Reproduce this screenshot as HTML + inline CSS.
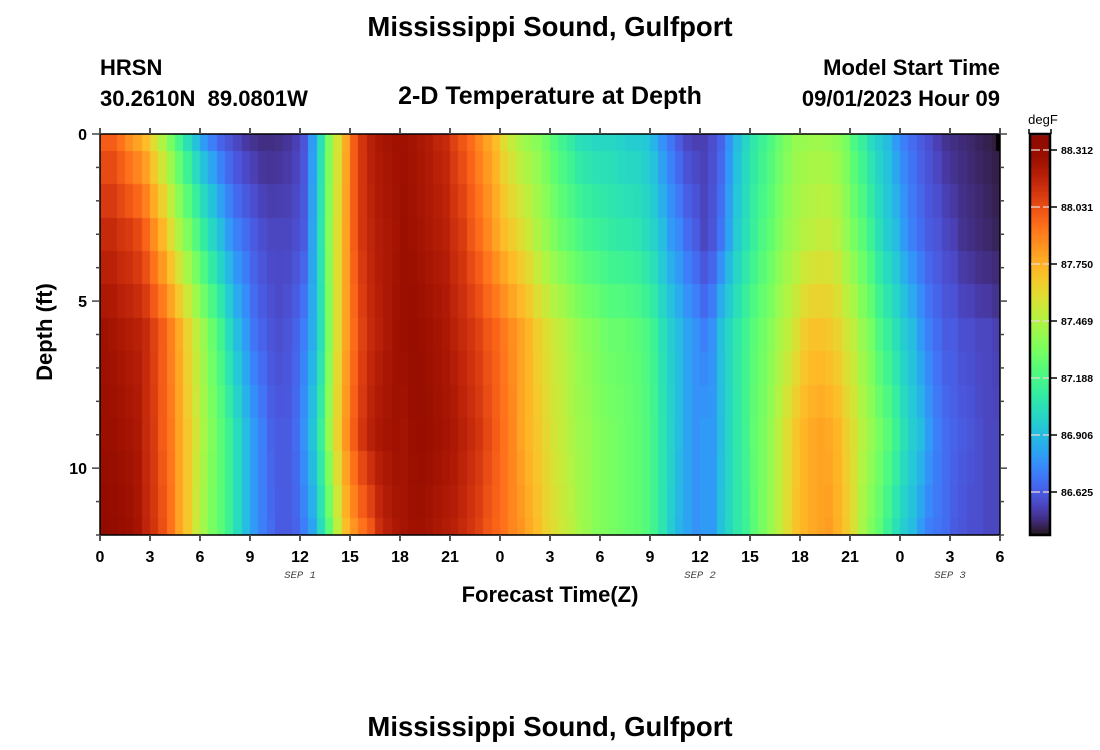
<!DOCTYPE html>
<html><head><meta charset="utf-8">
<style>
html,body{margin:0;padding:0;background:#fff;}
#wrap{position:relative;width:1100px;height:750px;overflow:hidden;background:#fff;}
canvas{position:absolute;left:0;top:0;}
svg{position:absolute;left:0;top:0;}
text{font-family:"Liberation Sans",Arial,sans-serif;}
</style></head>
<body>
<div id="wrap">
<canvas id="cv" width="1100" height="750"></canvas>
<svg width="1100" height="750" xmlns="http://www.w3.org/2000/svg">
<g font-weight="bold" fill="#000">
<text x="550" y="36" text-anchor="middle" font-size="27.5">Mississippi Sound, Gulfport</text>
<text x="100" y="75" font-size="22">HRSN</text>
<text x="100" y="106" font-size="22" style="white-space:pre" xml:space="preserve">30.2610N  89.0801W</text>
<text x="550" y="104" text-anchor="middle" font-size="25">2-D Temperature at Depth</text>
<text x="1000" y="75" text-anchor="end" font-size="22">Model Start Time</text>
<text x="1000" y="106" text-anchor="end" font-size="22">09/01/2023 Hour 09</text>
<text x="550" y="602" text-anchor="middle" font-size="22">Forecast Time(Z)</text>
<text transform="translate(52,332) rotate(-90)" text-anchor="middle" font-size="22">Depth (ft)</text>
<text x="550" y="736" text-anchor="middle" font-size="27.5">Mississippi Sound, Gulfport</text>
</g>
<g id="axes"></g>
<text x="1043" y="124" text-anchor="middle" font-size="13" fill="#000">degF</text>
</svg>
</div>
<script>
function turbo(x){
  x=Math.max(0,Math.min(1,x));
  var r=0.13572138+x*(4.61539260+x*(-42.66032258+x*(132.13108234+x*(-152.94239396+x*59.28637943))));
  var g=0.09140261+x*(2.19418839+x*(4.84296658+x*(-14.18503333+x*(4.27729857+x*2.82956604))));
  var b=0.10667330+x*(12.64194608+x*(-60.58204836+x*(110.36276771+x*(-89.90310912+x*27.34824973))));
  function c(v){return Math.max(0,Math.min(255,Math.round(v*255)));}
  return 'rgb('+c(r)+','+c(g)+','+c(b)+')';
}
function adj(t){
  var a=Math.max(0,Math.min(1,(0.25-t)/0.1));
  var b=Math.max(0,Math.min(1,t/0.08));
  return t-0.035*a*b;
}
var P=[
 [0.8,0.8,0.77,0.73,0.7,0.66,0.6,0.53,0.46,0.39,0.32,0.26,0.21,0.18,0.15,0.13,0.11,0.09,0.08,0.07,0.07,0.075,0.085,0.1,0.13,0.21,0.32,0.47,0.58,0.69,0.8,0.86,0.9,0.92,0.93,0.94,
  0.94,0.93,0.92,0.91,0.89,0.88,0.84,0.81,0.78,0.74,0.7,0.66,0.6,0.56,0.52,0.5,0.48,0.45,0.41,0.38,0.35,0.32,0.31,0.3,0.3,0.3,0.29,0.28,0.28,0.27,0.24,0.2,0.17,0.14,0.11,0.1,
  0.1,0.12,0.15,0.2,0.25,0.3,0.34,0.37,0.4,0.44,0.47,0.5,0.5,0.51,0.51,0.5,0.49,0.46,0.4,0.36,0.31,0.28,0.25,0.21,0.18,0.16,0.14,0.12,0.1,0.08,0.07,0.06,0.05,0.04,0.03,0.02],
 [0.88,0.88,0.86,0.85,0.83,0.79,0.73,0.67,0.6,0.53,0.47,0.41,0.35,0.3,0.25,0.21,0.18,0.16,0.14,0.12,0.11,0.11,0.11,0.12,0.14,0.22,0.33,0.48,0.6,0.7,0.8,0.86,0.89,0.91,0.92,0.93,
  0.95,0.94,0.93,0.92,0.91,0.9,0.87,0.85,0.81,0.78,0.74,0.7,0.66,0.63,0.6,0.57,0.53,0.5,0.47,0.44,0.42,0.4,0.38,0.37,0.36,0.35,0.34,0.34,0.33,0.31,0.29,0.25,0.21,0.19,0.16,0.14,
  0.11,0.13,0.17,0.22,0.28,0.32,0.36,0.4,0.43,0.47,0.5,0.52,0.54,0.55,0.56,0.56,0.54,0.5,0.46,0.42,0.37,0.32,0.28,0.25,0.21,0.18,0.16,0.14,0.13,0.11,0.1,0.08,0.07,0.06,0.05,0.04],
 [0.94,0.93,0.92,0.91,0.9,0.88,0.84,0.8,0.75,0.69,0.62,0.56,0.5,0.44,0.38,0.31,0.25,0.21,0.17,0.15,0.13,0.12,0.13,0.15,0.18,0.23,0.32,0.47,0.6,0.7,0.78,0.84,0.88,0.9,0.92,0.94,
  0.95,0.96,0.95,0.94,0.93,0.92,0.9,0.88,0.86,0.84,0.81,0.79,0.76,0.73,0.7,0.67,0.63,0.6,0.57,0.55,0.52,0.5,0.48,0.47,0.45,0.44,0.44,0.43,0.42,0.4,0.37,0.32,0.28,0.25,0.22,0.2,
  0.18,0.2,0.26,0.3,0.34,0.38,0.42,0.45,0.48,0.52,0.55,0.59,0.63,0.65,0.65,0.64,0.62,0.58,0.55,0.5,0.46,0.4,0.36,0.32,0.28,0.25,0.21,0.18,0.16,0.14,0.14,0.12,0.12,0.11,0.11,0.1],
 [0.95,0.95,0.94,0.93,0.92,0.88,0.85,0.8,0.76,0.7,0.64,0.58,0.52,0.47,0.42,0.37,0.31,0.25,0.21,0.18,0.15,0.14,0.14,0.16,0.2,0.26,0.36,0.5,0.62,0.72,0.8,0.86,0.9,0.92,0.93,0.94,
  0.93,0.95,0.96,0.95,0.94,0.93,0.92,0.9,0.88,0.86,0.83,0.8,0.77,0.74,0.7,0.67,0.64,0.61,0.58,0.56,0.53,0.51,0.5,0.48,0.47,0.46,0.45,0.44,0.43,0.41,0.38,0.33,0.29,0.25,0.22,0.2,
  0.21,0.21,0.25,0.3,0.34,0.38,0.43,0.46,0.5,0.55,0.6,0.64,0.67,0.69,0.7,0.69,0.67,0.63,0.59,0.54,0.5,0.46,0.42,0.37,0.32,0.28,0.25,0.21,0.18,0.16,0.15,0.14,0.13,0.12,0.11,0.11],
 [0.98,0.97,0.96,0.95,0.93,0.89,0.86,0.82,0.77,0.7,0.64,0.57,0.51,0.46,0.42,0.37,0.31,0.25,0.21,0.18,0.16,0.14,0.14,0.15,0.18,0.22,0.31,0.42,0.55,0.66,0.72,0.77,0.81,0.87,0.9,0.92,
  0.93,0.94,0.94,0.93,0.92,0.91,0.9,0.88,0.86,0.84,0.81,0.79,0.77,0.74,0.72,0.69,0.66,0.62,0.6,0.57,0.55,0.52,0.5,0.48,0.47,0.46,0.45,0.44,0.43,0.41,0.38,0.33,0.28,0.24,0.22,0.2,
  0.21,0.21,0.26,0.3,0.34,0.37,0.42,0.46,0.5,0.55,0.6,0.65,0.67,0.69,0.7,0.71,0.68,0.64,0.59,0.52,0.47,0.43,0.37,0.32,0.28,0.25,0.21,0.18,0.17,0.16,0.14,0.13,0.12,0.12,0.11,0.11]
];
var cv=document.getElementById('cv');var ctx=cv.getContext('2d');
var X0=100,X1=1000,Y0=134,Y1=535,NC=108,dy=(Y1-Y0)/12;
for(var r=0;r<=12;r++){
  var seg=Math.min(3,Math.floor(r/3)),fr=(r-seg*3)/3;
  var ya=Math.round(Math.max(Y0,Y0+(r-0.5)*dy)),yb=Math.round(Math.min(Y1,Y0+(r+0.5)*dy));
  for(var i=0;i<NC;i++){
    var t=P[seg][i]+fr*(P[seg+1][i]-P[seg][i]);
    var xa=Math.round(X0+i*(X1-X0)/NC),xb=Math.round(X0+(i+1)*(X1-X0)/NC);
    ctx.fillStyle=turbo(adj(t));ctx.fillRect(xa,ya,xb-xa,yb-ya);
  }
}
ctx.fillStyle='#000';ctx.fillRect(996,134,4,17);
for(var y=135;y<535;y++){ctx.fillStyle=turbo((534-y)/399);ctx.fillRect(1030,y,20,1);}
var ns='http://www.w3.org/2000/svg',g=document.getElementById('axes');
function el(n,a,txt){var e=document.createElementNS(ns,n);for(var k in a)e.setAttribute(k,a[k]);if(txt!==undefined)e.textContent=txt;g.appendChild(e);return e;}
function ln(x1,y1,x2,y2,c,w,d){var a={x1:x1,y1:y1,x2:x2,y2:y2,stroke:c,'stroke-width':w};if(d)a['stroke-dasharray']=d;el('line',a);}
el('rect',{x:100,y:134,width:900,height:401,fill:'none',stroke:'#000','stroke-width':1.5});
var lab=[0,3,6,9,12,15,18,21,0,3,6,9,12,15,18,21,0,3,6];
for(var k=0;k<19;k++){
  var x=100+50*k;
  ln(x,535,x,541,'#555',2);ln(x,134,x,128,'#555',2);
  el('text',{x:x,y:562,'text-anchor':'middle','font-size':16,'font-weight':'bold'},String(lab[k]));
}
for(var d=0;d<=12;d++){
  var y=134+d*dy,maj=(d%5==0);
  ln(maj?92:96,y,100,y,'#444',1.5);
  ln(1000,y,maj?1007:1004,y,'#444',1.5);
}
[['0',140],['5',307],['10',474]].forEach(function(a){el('text',{x:87,y:a[1],'text-anchor':'end','font-size':16,'font-weight':'bold'},a[0]);});
[['SEP 1',300],['SEP 2',700],['SEP 3',950]].forEach(function(a){el('text',{x:a[1],y:578,'text-anchor':'middle','font-size':10.5,'font-style':'italic',fill:'#444',style:'font-family:"Liberation Mono",monospace'},a[0]);});
el('rect',{x:1030,y:134,width:20,height:401,fill:'none',stroke:'#000','stroke-width':2.5});
ln(1029,129,1029,134,'#000',1.5);ln(1051,129,1051,134,'#000',1.5);
var cl=['88.312','88.031','87.750','87.469','87.188','86.906','86.625'];
for(var j=0;j<7;j++){
  var yy=150+57*j;
  ln(1031,yy,1049,yy,'rgba(235,215,215,0.85)',1.5,'9,3');
  ln(1051,yy,1057,yy,'#000',1.5);
  el('text',{x:1061,y:yy+4,'font-size':10.5,'font-weight':'bold'},cl[j]);
}
</script>
</body></html>
